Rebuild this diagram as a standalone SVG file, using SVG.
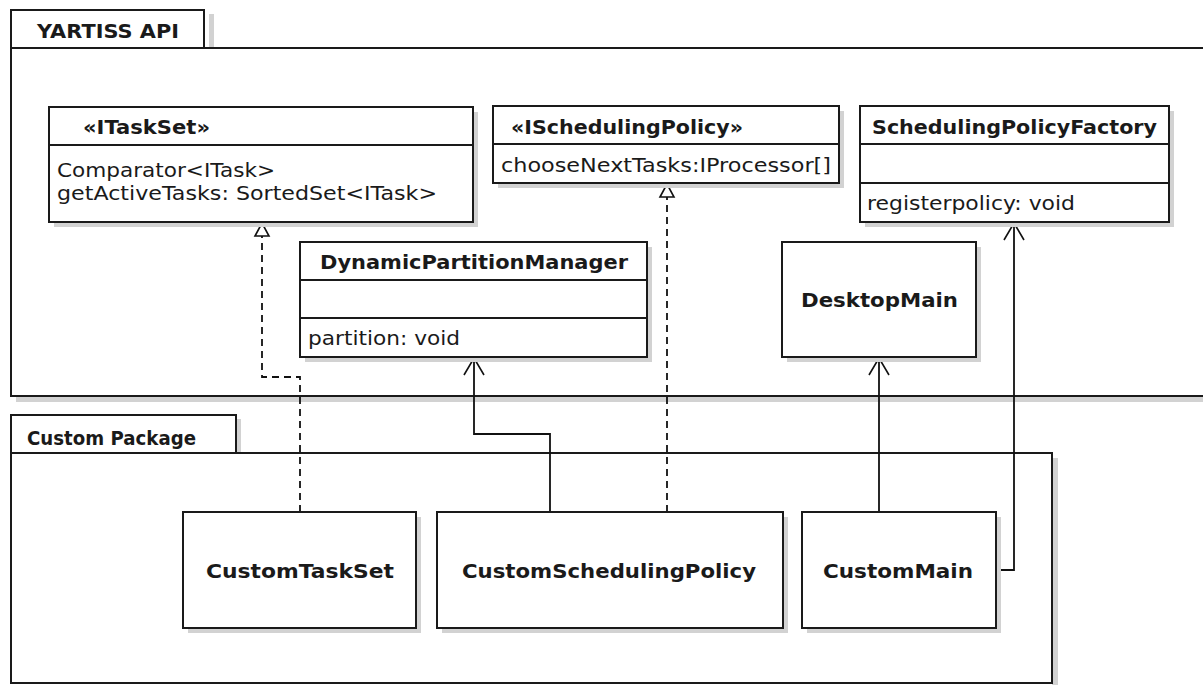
<svg xmlns="http://www.w3.org/2000/svg" width="1203" height="685" viewBox="0 0 1203 685">
<style>
.sh{fill:#d2d2d2}
.bx{fill:#fff;stroke:#1a1a1a;stroke-width:2}
.ln{stroke:#1a1a1a;stroke-width:2;fill:none}
.t{font-family:"DejaVu Sans",sans-serif;font-size:20px;fill:#1a1a1a}
.b{font-weight:bold}
.c{stroke:#111;stroke-width:1.8;fill:none}
.d{stroke-dasharray:7,5}
</style>
<defs>
<marker id="open" markerWidth="24" markerHeight="24" refX="12" refY="1" orient="0" markerUnits="userSpaceOnUse"><path d="M2,18 L12,1 L22,18" fill="none" stroke="#111" stroke-width="1.6"/></marker>
<marker id="tri" markerWidth="24" markerHeight="24" refX="12" refY="1" orient="0" markerUnits="userSpaceOnUse"><path d="M5,14 L12,1 L19,14 Z" fill="#fff" stroke="#111" stroke-width="1.6"/></marker>
</defs>
<rect width="1203" height="685" fill="#fff"/>

<g id="pkg-yartiss">
<rect class="sh" x="209" y="14" width="5" height="34"/>
<rect class="sh" x="16" y="396" width="1200" height="6"/>
<rect class="bx" x="11" y="10" width="193" height="38"/>
<rect class="bx" x="11" y="48" width="1205" height="348"/>
<text class="t b" x="37" y="38" textLength="142" lengthAdjust="spacingAndGlyphs">YARTISS API</text>
</g>

<g id="pkg-custom">
<rect class="sh" x="236" y="419" width="5" height="34"/>
<rect class="sh" x="1052" y="458" width="6" height="230"/>
<rect class="bx" x="11" y="415" width="225" height="38"/>
<rect class="bx" x="11" y="453" width="1041" height="230"/>
<text class="t b" x="27" y="445" textLength="169" lengthAdjust="spacingAndGlyphs">Custom Package</text>
</g>

<g id="connectors">
<polyline class="c d" points="300,512 300,377 262,377 262,223" marker-end="url(#tri)"/>
<polyline class="c" points="550,512 550,434 474,434 474,358" marker-end="url(#open)"/>
<polyline class="c d" points="667,512 667,184" marker-end="url(#tri)"/>
<polyline class="c" points="879,512 879,358" marker-end="url(#open)"/>
<polyline class="c" points="997,570 1014,570 1014,223" marker-end="url(#open)"/>
</g>

<g id="ITaskSet">
<rect class="sh" x="54" y="112" width="424" height="115"/>
<rect class="bx" x="49" y="107" width="424" height="115"/>
<line class="ln" x1="49" y1="145" x2="473" y2="145"/>
<text class="t b" x="83" y="134" textLength="127" lengthAdjust="spacingAndGlyphs">«ITaskSet»</text>
<text class="t" x="57" y="177" textLength="218" lengthAdjust="spacingAndGlyphs">Comparator&lt;ITask&gt;</text>
<text class="t" x="57" y="200" textLength="380" lengthAdjust="spacingAndGlyphs">getActiveTasks: SortedSet&lt;ITask&gt;</text>
</g>

<g id="ISchedulingPolicy">
<rect class="sh" x="498" y="111" width="346" height="77"/>
<rect class="bx" x="493" y="106" width="346" height="77"/>
<line class="ln" x1="493" y1="144" x2="839" y2="144"/>
<text class="t b" x="511" y="134" textLength="232" lengthAdjust="spacingAndGlyphs">«ISchedulingPolicy»</text>
<text class="t" x="501" y="172" textLength="330" lengthAdjust="spacingAndGlyphs">chooseNextTasks:IProcessor[]</text>
</g>

<g id="SchedulingPolicyFactory">
<rect class="sh" x="865" y="111" width="309" height="116"/>
<rect class="bx" x="860" y="106" width="309" height="116"/>
<line class="ln" x1="860" y1="144" x2="1169" y2="144"/>
<line class="ln" x1="860" y1="183" x2="1169" y2="183"/>
<text class="t b" x="872" y="134" textLength="285" lengthAdjust="spacingAndGlyphs">SchedulingPolicyFactory</text>
<text class="t" x="867" y="210" textLength="208" lengthAdjust="spacingAndGlyphs">registerpolicy: void</text>
</g>

<g id="DynamicPartitionManager">
<rect class="sh" x="305" y="247" width="347" height="115"/>
<rect class="bx" x="300" y="242" width="347" height="115"/>
<line class="ln" x1="300" y1="280" x2="647" y2="280"/>
<line class="ln" x1="300" y1="318" x2="647" y2="318"/>
<text class="t b" x="320" y="269" textLength="308" lengthAdjust="spacingAndGlyphs">DynamicPartitionManager</text>
<text class="t" x="308" y="345" textLength="152" lengthAdjust="spacingAndGlyphs">partition: void</text>
</g>

<g id="DesktopMain">
<rect class="sh" x="787" y="247" width="194" height="115"/>
<rect class="bx" x="782" y="242" width="194" height="115"/>
<text class="t b" x="801" y="307" textLength="157" lengthAdjust="spacingAndGlyphs">DesktopMain</text>
</g>

<g id="CustomTaskSet">
<rect class="sh" x="188" y="517" width="233" height="116"/>
<rect class="bx" x="183" y="512" width="233" height="116"/>
<text class="t b" x="206" y="578" textLength="188" lengthAdjust="spacingAndGlyphs">CustomTaskSet</text>
</g>

<g id="CustomSchedulingPolicy">
<rect class="sh" x="442" y="517" width="346" height="116"/>
<rect class="bx" x="437" y="512" width="346" height="116"/>
<text class="t b" x="462" y="578" textLength="294" lengthAdjust="spacingAndGlyphs">CustomSchedulingPolicy</text>
</g>

<g id="CustomMain">
<rect class="sh" x="807" y="517" width="194" height="116"/>
<rect class="bx" x="802" y="512" width="194" height="116"/>
<text class="t b" x="823" y="578" textLength="150" lengthAdjust="spacingAndGlyphs">CustomMain</text>
</g>
</svg>
